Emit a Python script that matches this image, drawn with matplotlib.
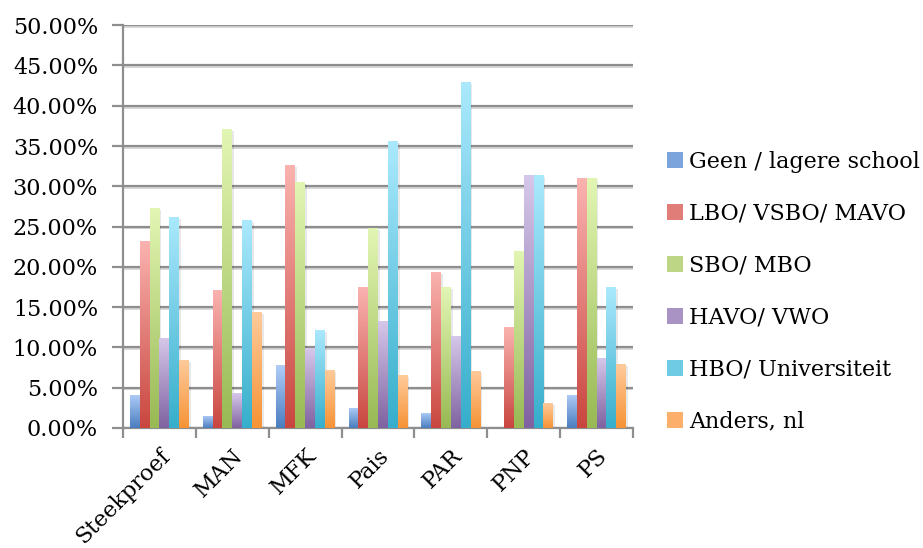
import numpy as np
import matplotlib.pyplot as plt
from matplotlib.colors import LinearSegmentedColormap
from matplotlib.patches import Patch

plt.rcParams['font.family'] = ['DejaVu Serif']

categories = ['Steekproef', 'MAN', 'MFK', 'Pais', 'PAR', 'PNP', 'PS']
series_names = ['Geen / lagere school', 'LBO/ VSBO/ MAVO', 'SBO/ MBO',
                'HAVO/ VWO', 'HBO/ Universiteit', 'Anders, nl']

# percentages per category
geen = [4.1, 1.5, 7.8, 2.5, 1.9, 0.0, 4.1]
lbo = [23.2, 17.1, 32.6, 17.5, 19.4, 12.5, 31.0]
sbo = [27.3, 37.1, 30.5, 24.8, 17.5, 22.0, 31.0]
havo = [11.2, 4.3, 9.9, 13.3, 11.4, 31.4, 8.7]
hbo = [26.2, 25.8, 12.2, 35.6, 43.0, 31.4, 17.5]
anders = [8.4, 14.4, 7.2, 6.6, 7.1, 3.1, 7.9]

all_series = [geen, lbo, sbo, havo, hbo, anders]

# (bottom, top) gradient colours
grads = [('#4a7dbf', '#b0cdf8'),
         ('#c9463f', '#fab3b0'),
         ('#98b954', '#e2f6b3'),
         ('#7f62a0', '#d6c8ea'),
         ('#36aecb', '#abe9fd'),
         ('#f69335', '#ffcb9c')]
mids = ['#7ba3dc', '#e07d78', '#bcd685', '#a993c5', '#6fcbe4', '#fbaf6a']

fig = plt.figure(figsize=(9.23, 5.48), dpi=100)
ax = fig.add_axes([0.1333, 0.219, 0.5525, 0.735])

x = np.arange(len(categories))
w = 0.135
grad = np.linspace(0, 1, 256).reshape(-1, 1)

yt = np.arange(0, 51, 5)
# gridline shadows
ax.hlines(yt[1:] - 0.22, -0.5, len(categories) - 0.5, color='#d6d6d6',
          linewidth=1.4, zorder=0.5)

for i, vals in enumerate(all_series):
    off = (i - 2.5) * w
    # soft shadow
    ax.bar(x + off + 0.025, vals, w, bottom=-0.25, color='#000000', alpha=0.09,
           linewidth=0, zorder=2)
    bars = ax.bar(x + off, vals, w, color=mids[i], linewidth=0, zorder=3)
    cmap = LinearSegmentedColormap.from_list('g%d' % i, grads[i])
    for b in bars:
        h = b.get_height()
        if h <= 0:
            continue
        x0 = b.get_x()
        im = ax.imshow(grad, extent=[x0, x0 + w, 0, h], origin='lower',
                       cmap=cmap, aspect='auto', zorder=4)
        im.set_clip_path(b)

ax.set_xlim(-0.5, len(categories) - 0.5)
ax.set_ylim(0, 50)

ax.set_yticks(yt)
ax.set_yticklabels(['%.2f%%' % v for v in yt], fontsize=16)
ax.yaxis.grid(True, color='#8e8e8e', linewidth=1.6, zorder=1)
ax.set_axisbelow(True)

ax.set_xticks(np.arange(-0.5, len(categories), 1))
ax.set_xticklabels([])
ax.set_xticks(x, minor=True)
ax.set_xticklabels(categories, minor=True, fontsize=16)
ax.tick_params(axis='x', which='major', length=7, width=1.6, color='#8e8e8e')
ax.tick_params(axis='x', which='minor', length=0, pad=12)
ax.tick_params(axis='y', length=8, width=1.6, color='#8e8e8e', pad=10)
plt.setp(ax.get_xticklabels(minor=True), rotation=45, ha='right',
         rotation_mode='anchor')

for s in ['top', 'right']:
    ax.spines[s].set_visible(False)
for s in ['left', 'bottom']:
    ax.spines[s].set_color('#8e8e8e')
    ax.spines[s].set_linewidth(1.6)

handles = [Patch(facecolor=mids[i], edgecolor='none') for i in range(6)]
fig.legend(handles, series_names, loc='center left',
           bbox_to_anchor=(0.701, 0.468), frameon=False, fontsize=16,
           handlelength=0.7, handleheight=0.7, handletextpad=0.3,
           labelspacing=1.35)

fig.savefig('out.png', dpi=100)
